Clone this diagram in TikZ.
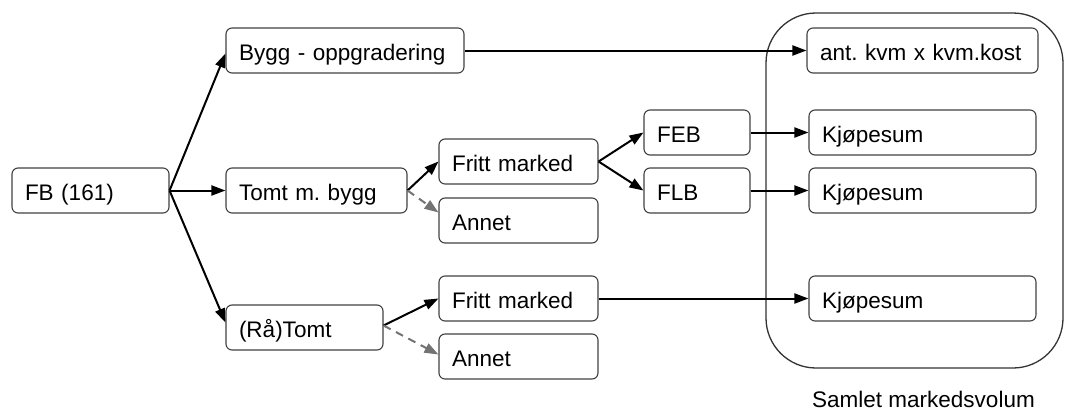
\documentclass[tikz,border=0pt]{standalone}
\usepackage{fontspec}
\setmainfont{Liberation Sans}
\usetikzlibrary{arrows.meta}
\frenchspacing
\begin{document}
\begin{tikzpicture}[x=1pt,y=-1pt,
  box/.style={draw=black!75,line width=1.1pt,rounded corners=6pt,minimum height=45pt,
    inner xsep=13pt,inner ysep=0pt,align=left,text height=24pt,text depth=5pt,
    font=\fontsize{22.5}{26}\selectfont},
  arr/.style={line width=2pt,-{Triangle[length=14pt,width=10pt]}},
  darr/.style={line width=2pt,draw=black!55,dash pattern=on 8pt off 6pt,
    -{Triangle[length=14pt,width=10pt,fill=black!55]}}]
\useasboundingbox (0,0) rectangle (1067,410);
\draw[black!80,line width=1.3pt,rounded corners=50pt] (766,13) rectangle (1063,368);
\node[font=\fontsize{22.5}{26}\selectfont] (lab) at (923.5,399) {Samlet markedsvolum};
\node[box,text width=131pt] (fb) at (90.5,190.5) {FB (161)};
\node[box,text width=212pt] (bygg) at (345,50.5) {Bygg - oppgradering};
\node[box,text width=155pt] (tomt) at (316.5,190.5) {Tomt m. bygg};
\node[box,text width=131pt] (ratomt) at (304.5,327.5) {(Rå)Tomt};
\node[box,text width=133pt] (fm1) at (518.5,161.5) {Fritt marked};
\node[box,text width=133pt] (an1) at (518.5,220.5) {Annet};
\node[box,text width=133pt] (fm2) at (518.5,298.5) {Fritt marked};
\node[box,text width=133pt] (an2) at (518.5,356.5) {Annet};
\node[box,text width=80pt] (feb) at (697,132.5) {FEB};
\node[box,text width=80pt] (flb) at (697,190.5) {FLB};
\node[box,text width=205pt] (akk) at (922.5,50.5) {ant. kvm x kvm.kost};
\node[box,text width=201pt] (k1) at (922.5,132.5) {Kjøpesum};
\node[box,text width=201pt] (k2) at (922.5,190.5) {Kjøpesum};
\node[box,text width=201pt] (k3) at (922.5,298.5) {Kjøpesum};
\draw[arr] (fb.east) -- ([yshift=-3pt]bygg.west);
\draw[arr] (fb.east) -- (tomt.west);
\draw[arr] (fb.east) -- ([yshift=5pt]ratomt.west);
\draw[arr] (tomt.east) -- (fm1.west);
\draw[darr] (tomt.east) -- ([yshift=8pt]an1.west);
\draw[arr] ([yshift=2pt]ratomt.east) -- (fm2.west);
\draw[darr] ([yshift=2pt]ratomt.east) -- ([yshift=2pt]an2.west);
\draw[arr] (fm1.east) -- (feb.west);
\draw[arr] (fm1.east) -- (flb.west);
\draw[arr] (bygg.east) -- (akk.west);
\draw[arr] (feb.east) -- (k1.west);
\draw[arr] (flb.east) -- (k2.west);
\draw[arr] (fm2.east) -- (k3.west);
\end{tikzpicture}
\end{document}
